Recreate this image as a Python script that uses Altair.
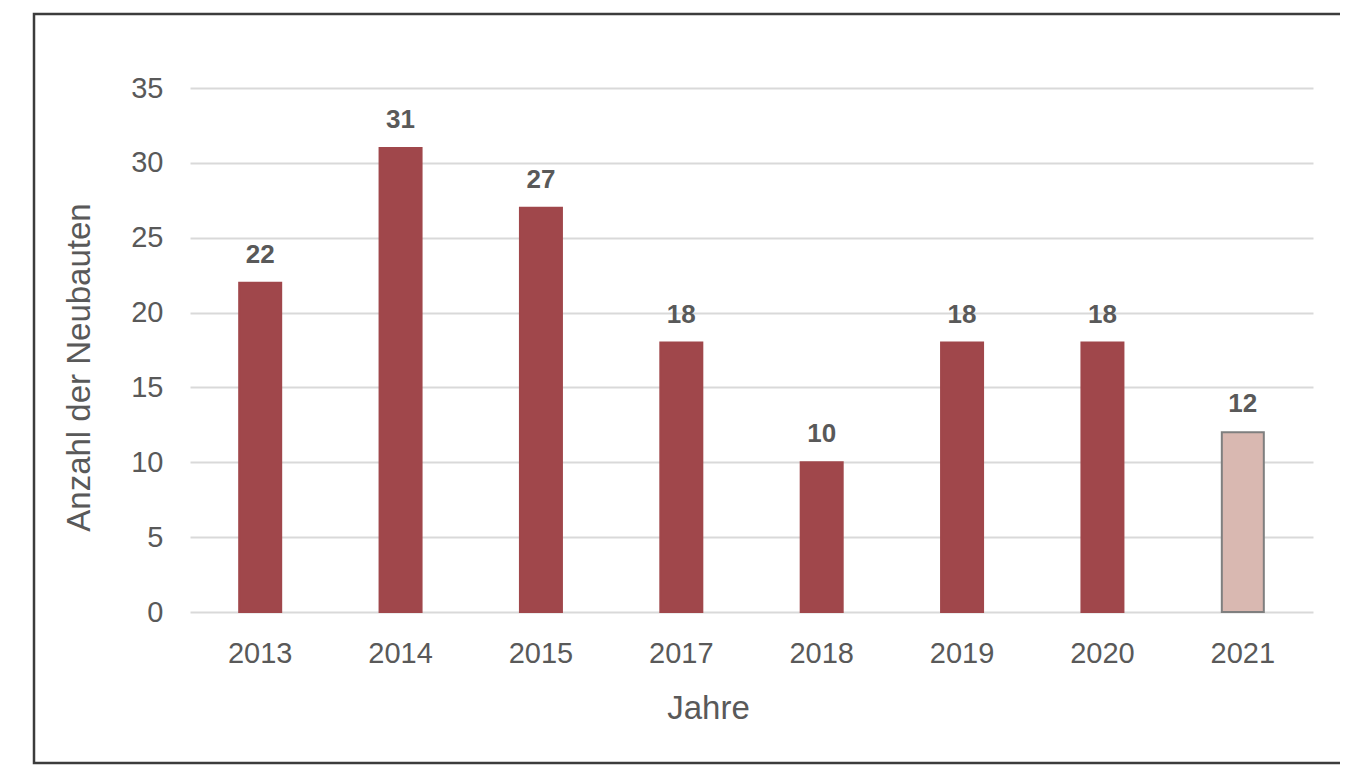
import altair as alt
import pandas as pd

years = ["2013", "2014", "2015", "2017", "2018", "2019", "2020", "2021"]
counts = [22, 31, 27, 18, 10, 18, 18, 12]
kind = ["fest", "fest", "fest", "fest", "fest", "fest", "fest", "vorläufig"]
y_ticks = [0, 5, 10, 15, 20, 25, 30, 35]

df = pd.DataFrame({"Jahr": years, "Anzahl": counts, "Art": kind})

FONT = "Liberation Sans"
GREY = "#595959"
W, H = 1123, 524
step = W / len(years)

x_enc = alt.X(
    "Jahr:N",
    sort=years,
    scale=alt.Scale(paddingInner=0, paddingOuter=0),
    axis=alt.Axis(
        title="Jahre", labelAngle=0, labelFontSize=29, labelColor=GREY,
        labelPadding=27, ticks=False, domain=False,
        titleFontSize=33, titleColor=GREY, titleFontWeight="normal",
        titleX=518, titleY=96, titleBaseline="middle", titleAlign="center",
    ),
)
y_enc = alt.Y(
    "Anzahl:Q",
    scale=alt.Scale(domain=[0, 35], nice=False),
    axis=alt.Axis(
        values=y_ticks, title="Anzahl der Neubauten", labelFontSize=29,
        labelColor=GREY, labelPadding=27, ticks=False, domain=False,
        gridColor="#d9d9d9", gridWidth=2,
        titleFontSize=33, titleColor=GREY, titleFontWeight="normal",
        titleAngle=270, titleX=-111, titleY=279,
        titleBaseline="middle", titleAlign="center",
    ),
)

base = alt.Chart(df)

bars = base.mark_bar(width=alt.RelativeBandSize(42 / step), strokeWidth=2).encode(
    x=x_enc,
    y=y_enc,
    color=alt.Color("Art:N", scale=alt.Scale(domain=["fest", "vorläufig"],
                                              range=["#A0474B", "#D9B8B1"]), legend=None),
    stroke=alt.Stroke("Art:N", scale=alt.Scale(domain=["fest", "vorläufig"],
                                                range=["#A0474B", "#7F7F7F"]), legend=None),
)

labels = base.mark_text(
    dy=-20, baseline="alphabetic", fontSize=26, fontWeight="bold",
    color=GREY, font=FONT,
).encode(x=alt.X("Jahr:N", sort=years), y="Anzahl:Q", text="Anzahl:Q")

frame = alt.Chart(pd.DataFrame({"f": [0]})).mark_rect(
    fill="white", fillOpacity=0, stroke="#3c3c3c", strokeWidth=2.5
).encode(
    x=alt.value(-156), x2=alt.value(1152), y=alt.value(-74), y2=alt.value(675)
)

chart = alt.layer(bars, labels, frame).properties(
    width=W, height=H,
    autosize=alt.AutoSizeParams(type="none"),
    padding={"left": 182, "top": 80, "right": 27, "bottom": 158},
    background="white",
).configure_view(stroke=None).configure_axis(
    labelFont=FONT, titleFont=FONT
)

chart.save("out.html", embed_options={"renderer": "svg", "actions": False})
